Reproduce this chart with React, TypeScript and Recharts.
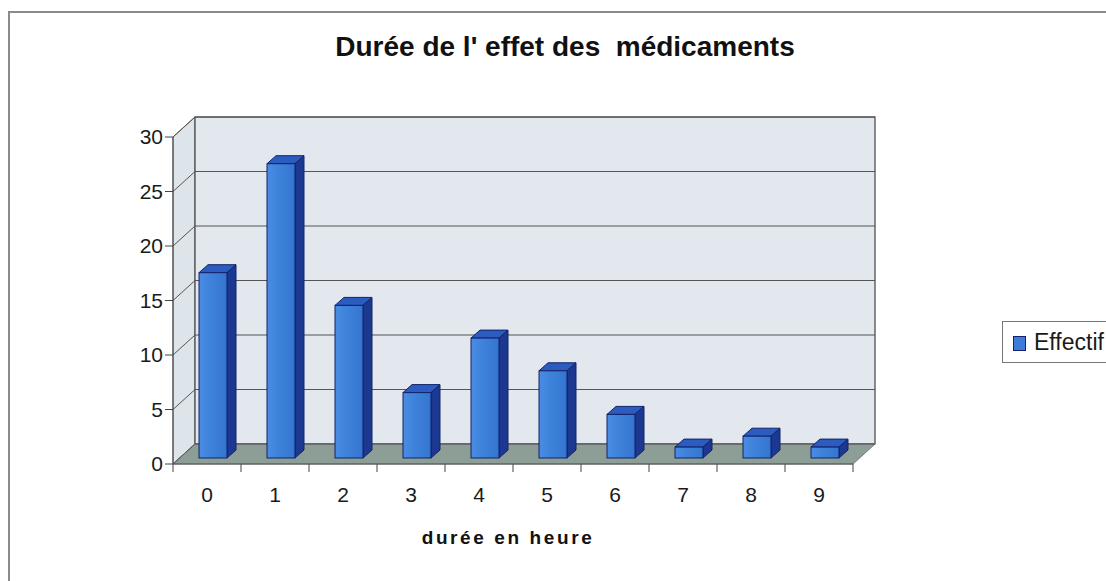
import React from 'react';
import { BarChart, Bar, XAxis, YAxis, CartesianGrid, ReferenceArea, Legend } from 'recharts';

const categories = ['0', '1', '2', '3', '4', '5', '6', '7', '8', '9'];
const effectif = [17, 27, 14, 6, 11, 8, 4, 1, 2, 1];
const yTicks = [0, 5, 10, 15, 20, 25, 30];
const seriesName = 'Effectif';
const chartTitle = "Durée de l' effet des  médicaments";
const xTitle = 'durée en heure';

const data = categories.map((c, i) => ({ duree: c, Effectif: effectif[i] }));

const DX = 22;
const DY = 20;
const BS = 6;
const BDX = 9;
const BDY = 8;
const FONT = 'Arial, "Liberation Sans", Helvetica, sans-serif';

const Walls = (p: any) => {
  const { x, y, width: w, height: h } = p;
  const bx = x + DX;
  const by = y - DY;
  const fy = y + h;
  const n = categories.length;
  const ticks = [];
  for (let i = 0; i <= n; i++) {
    const tx = x + (i * w) / n;
    ticks.push(<line key={i} x1={tx} y1={fy} x2={tx} y2={fy + 8} stroke="#444" strokeWidth={1} />);
  }
  return (
    <g>
      <polygon points={`${x},${y} ${bx},${by} ${bx},${by + h} ${x},${fy}`} fill="#dde4ea" stroke="#666" strokeWidth={1} />
      <rect x={bx} y={by} width={w} height={h} fill="#e2e8ed" stroke="#444" strokeWidth={1.2} />
      <polygon
        points={`${x},${fy} ${x + w},${fy} ${x + w + DX},${fy - DY} ${bx},${fy - DY}`}
        fill="#8d9e96"
        stroke="#777"
        strokeWidth={1}
      />
      {ticks}
    </g>
  );
};

const GridLine = (p: any) => {
  const { x1, y1, x2 } = p;
  return (
    <g key={p.key}>
      <line x1={x1 + DX} y1={y1 - DY} x2={x2 + DX} y2={y1 - DY} stroke="#555" strokeWidth={1} />
      <line x1={x1} y1={y1} x2={x1 + DX} y2={y1 - DY} stroke="#555" strokeWidth={1} />
    </g>
  );
};

const Bar3D = (p: any) => {
  const { x, y, width: w, height: h } = p;
  if (h == null || h <= 0) return null;
  const fx = x + BS;
  const fy = y - BS;
  const outline = '#13226a';
  return (
    <g>
      <polygon
        points={`${fx},${fy} ${fx + BDX},${fy - BDY} ${fx + w + BDX},${fy - BDY} ${fx + w},${fy}`}
        fill="#2d5cc0"
        stroke={outline}
        strokeWidth={1}
        strokeLinejoin="round"
      />
      <polygon
        points={`${fx + w},${fy} ${fx + w + BDX},${fy - BDY} ${fx + w + BDX},${fy + h - BDY} ${fx + w},${fy + h}`}
        fill="#1d3890"
        stroke={outline}
        strokeWidth={1}
        strokeLinejoin="round"
      />
      <rect x={fx} y={fy} width={w} height={h} fill="url(#frontGrad)" stroke={outline} strokeWidth={1} />
    </g>
  );
};

const XTick = (p: any) => {
  const { x, y, payload } = p;
  return (
    <text x={x} y={y} dy="0.71em" textAnchor="middle" fontSize={21} fill="#1a1a1a" fontFamily={FONT}>
      {payload.value}
    </text>
  );
};

const LegendBox = (p: any) => {
  const items = p.payload || [];
  return (
    <div
      style={{
        border: '1.5px solid #777',
        background: '#fff',
        height: 42,
        width: 130,
        boxSizing: 'border-box',
        display: 'flex',
        alignItems: 'center',
        paddingLeft: 10,
        fontFamily: FONT,
        fontSize: 23,
        color: '#1a1a1a',
      }}
    >
      {items.map((it: any) => (
        <div key={it.value} style={{ display: 'flex', alignItems: 'center' }}>
          <span
            style={{
              display: 'inline-block',
              width: 11,
              height: 13,
              background: '#3b7dd8',
              border: '1px solid #13226a',
              marginRight: 8,
              marginTop: 3,
            }}
          />
          <span>{it.value}</span>
        </div>
      ))}
    </div>
  );
};

export default function App() {
  return (
    <div style={{ position: 'fixed', left: 0, top: 0, width: 1106, height: 581, background: '#fff', overflow: 'hidden' }}>
      <div
        style={{
          position: 'absolute',
          left: 8,
          top: 11,
          width: 1120,
          height: 600,
          border: '2px solid #8a8a8a',
          boxSizing: 'border-box',
        }}
      />
      <div
        style={{
          position: 'absolute',
          left: 0,
          width: 1130,
          top: 31,
          textAlign: 'center',
          fontFamily: FONT,
          fontWeight: 'bold',
          fontSize: 28,
          color: '#111',
          whiteSpace: 'pre',
        }}
      >
        {chartTitle}
      </div>
      <div
        style={{
          position: 'absolute',
          left: 0,
          width: 1016,
          top: 527,
          textAlign: 'center',
          fontFamily: FONT,
          fontWeight: 'bold',
          fontSize: 19,
          letterSpacing: 2.6,
          color: '#111',
        }}
      >
        {xTitle}
      </div>
      <div style={{ position: 'absolute', left: 0, top: 0 }}>
        <BarChart width={1106} height={581} data={data} margin={{ top: 137, right: 253, bottom: 87, left: 113 }}>
          <defs>
            <linearGradient id="frontGrad" x1="0" y1="0" x2="1" y2="0">
              <stop offset="0%" stopColor="#4a8ce2" />
              <stop offset="35%" stopColor="#3f84dc" />
              <stop offset="100%" stopColor="#3474cf" />
            </linearGradient>
          </defs>
          <ReferenceArea y1={0} y2={30} shape={Walls} zIndex={-200} ifOverflow="visible" />
          <CartesianGrid vertical={false} horizontal={GridLine} zIndex={-150} />
          <XAxis
            dataKey="duree"
            height={30}
            tickLine={false}
            axisLine={{ stroke: '#555', strokeWidth: 1 }}
            tickSize={8}
            tickMargin={15}
            tick={XTick}
            interval={0}
          />
          <YAxis
            width={60}
            domain={[0, 30]}
            ticks={yTicks}
            allowDataOverflow
            axisLine={{ stroke: '#444', strokeWidth: 1 }}
            tickLine={{ stroke: '#444', strokeWidth: 1 }}
            tickSize={8}
            tickMargin={2}
            tick={{ fontSize: 21, fill: '#1a1a1a', fontFamily: FONT }}
          />
          <Legend
            layout="vertical"
            align="center"
            verticalAlign="middle"
            content={LegendBox}
            wrapperStyle={{ left: 1002, top: 321, width: 130 }}
          />
          <Bar dataKey="Effectif" name={seriesName} barSize={28} shape={Bar3D} isAnimationActive={false} />
        </BarChart>
      </div>
    </div>
  );
}
